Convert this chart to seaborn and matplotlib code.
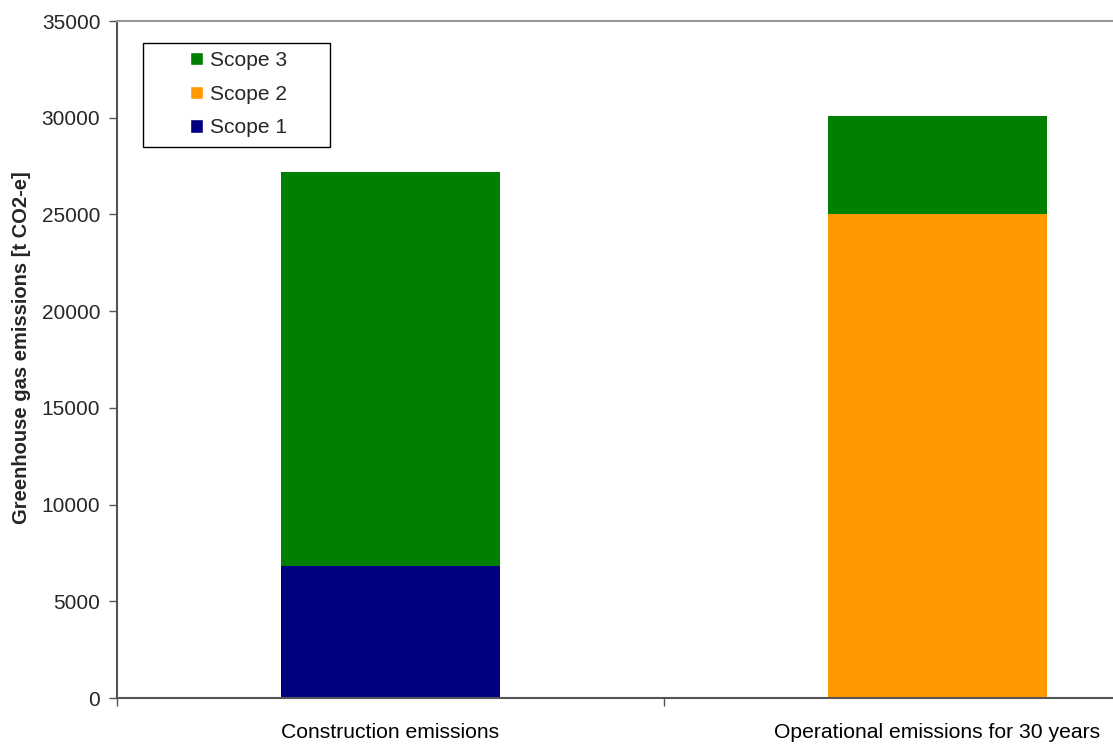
import matplotlib
matplotlib.use("Agg")
import matplotlib.pyplot as plt
import seaborn as sns
import numpy as np
from matplotlib.patches import Patch, Rectangle

categories = ["Construction emissions", "Operational emissions for 30 years"]
scope1 = [6800, 0]
scope2 = [0, 25000]
scope3 = [20400, 5100]

sns.set_style("white")
plt.rcParams['font.family'] = ['Liberation Sans', 'DejaVu Sans']

fig = plt.figure(figsize=(11.13, 7.44), dpi=100)
W, H = 1113, 744
left, right, top, bottom = 117, 1211, 21, 698
ax = fig.add_axes([left / W, 1 - bottom / H, (right - left) / W, (bottom - top) / H])

s1 = np.array(scope1)
s12 = s1 + np.array(scope2)
s123 = s12 + np.array(scope3)

bw = 0.402
sns.barplot(x=categories, y=s123, color="#008000", width=bw, saturation=1, ax=ax, linewidth=0)
sns.barplot(x=categories, y=s12, color="#FF9900", width=bw, saturation=1, ax=ax, linewidth=0)
sns.barplot(x=categories, y=s1, color="#000080", width=bw, saturation=1, ax=ax, linewidth=0)

ax.set_xlim(-0.5, 1.5)
ax.set_ylim(0, 35000)
ax.set_yticks(np.arange(0, 35001, 5000))
ax.set_yticklabels([str(v) for v in range(0, 35001, 5000)])
ax.set_xticks([0, 1])
ax.set_xticklabels(categories)
ax.set_xticks([-0.5, 0.5, 1.5], minor=True)
ax.tick_params(axis="x", which="major", bottom=False, length=0, labelsize=15.2, pad=18, colors="black")
ax.tick_params(axis="x", which="minor", bottom=True, length=6, width=1, color="#555555", direction="out")
ax.tick_params(axis="y", left=True, length=6, width=1, color="#555555", direction="out", labelsize=15, pad=6)
ax.set_xlabel("")
ax.set_ylabel("Greenhouse gas emissions [t CO2-e]", fontsize=14.5, fontweight="bold")

for s in ["left", "bottom"]:
    ax.spines[s].set_color("#555555")
    ax.spines[s].set_linewidth(1.5)
ax.spines["top"].set_visible(True)
ax.spines["top"].set_color("#999999")
ax.spines["top"].set_linewidth(1.5)
ax.spines["right"].set_visible(False)

def ax_x(px):
    return (px - left) / (right - left)

def ax_y(py):
    return 1 - (py - top) / (bottom - top)

ax.yaxis.set_label_coords(ax_x(31), ax_y(348))

frame = Rectangle((ax_x(143), ax_y(147)), ax_x(330) - ax_x(143), ax_y(43) - ax_y(147),
                  transform=ax.transAxes, facecolor="white", edgecolor="black", linewidth=1, zorder=5)
ax.add_patch(frame)

handles = [Patch(facecolor="#008000", label="Scope 3"),
           Patch(facecolor="#FF9900", label="Scope 2"),
           Patch(facecolor="#000080", label="Scope 1")]
leg = ax.legend(handles=handles, loc="upper left",
                bbox_to_anchor=(ax_x(190), ax_y(51)),
                fontsize=15.1, frameon=False,
                handlelength=0.62, handleheight=0.62, handletextpad=0.35,
                borderpad=0, labelspacing=0.7, borderaxespad=0)
leg.set_zorder(6)

fig.savefig("out.png", dpi=100)
